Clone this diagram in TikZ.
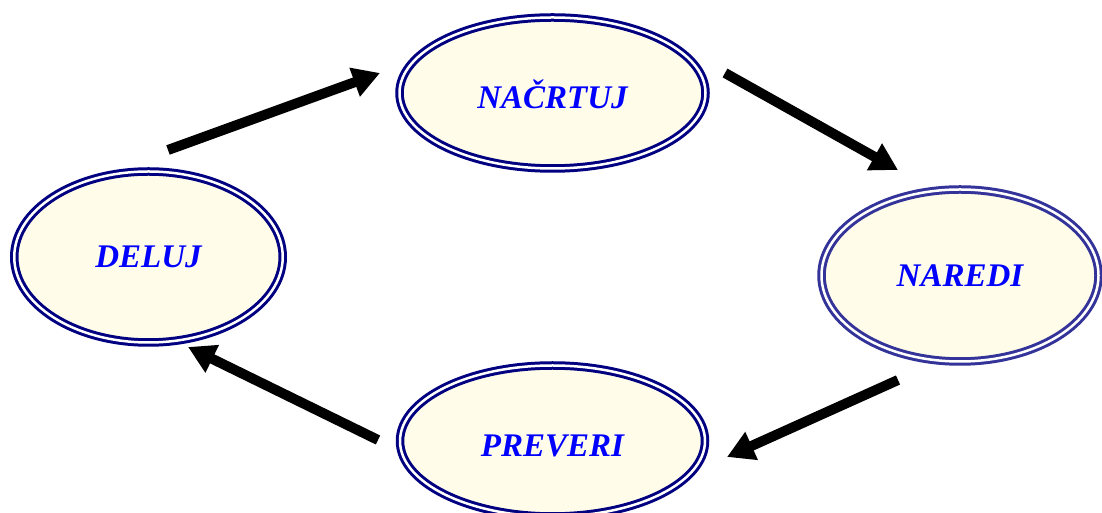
\documentclass[tikz,border=0pt]{standalone}
\usepackage{fontspec}
\setmainfont{Liberation Serif}
\usetikzlibrary{shapes.geometric,arrows.meta}

\definecolor{rimnavy}{HTML}{000080}
\definecolor{rimviolet}{HTML}{333399}
\definecolor{cream}{HTML}{FFFDE9}
\definecolor{wordblue}{HTML}{0000FF}

\tikzset{
  phase/.style={ellipse, inner sep=0pt, draw=rimnavy, double=white,
    line width=3pt, double distance=2.5pt, fill=cream,
    text=wordblue, font=\fontsize{33}{37}\selectfont\bfseries\itshape,
    text height=22pt, text depth=0pt},
  lowtext/.style={text height=32pt, text depth=0pt},
  flow/.style={line width=10pt, -{Triangle[length=27pt,width=29pt]}}
}

\begin{document}
\begin{tikzpicture}[x=1pt,y=1pt]
  \useasboundingbox (0,0) rectangle (1102,513);

  % the four phases of the cycle
  \node[phase, lowtext, minimum width=306pt, minimum height=151pt] (nacrtuj) at (552.5,420) {NAČRTUJ};
  \node[phase, draw=rimviolet, minimum width=277pt, minimum height=172pt] (naredi) at (960,237.5) {NAREDI};
  \node[phase, lowtext, minimum width=305pt, minimum height=151pt] (preveri) at (552.5,72) {PREVERI};
  \node[phase, minimum width=268.5pt, minimum height=171pt] (deluj) at (148.5,256) {DELUJ};

  % arrow end points between the phases
  \coordinate (a1s) at (168,363);
  \coordinate (a1e) at (380,440);
  \coordinate (a2s) at (725,440);
  \coordinate (a2e) at (898,343);
  \coordinate (a3s) at (898,133);
  \coordinate (a3e) at (727,56);
  \coordinate (a4s) at (378,73);
  \coordinate (a4e) at (188,166);

  \draw[flow] (a1s) -- (a1e);
  \draw[flow] (a2s) -- (a2e);
  \draw[flow] (a3s) -- (a3e);
  \draw[flow] (a4s) -- (a4e);
\end{tikzpicture}
\end{document}
